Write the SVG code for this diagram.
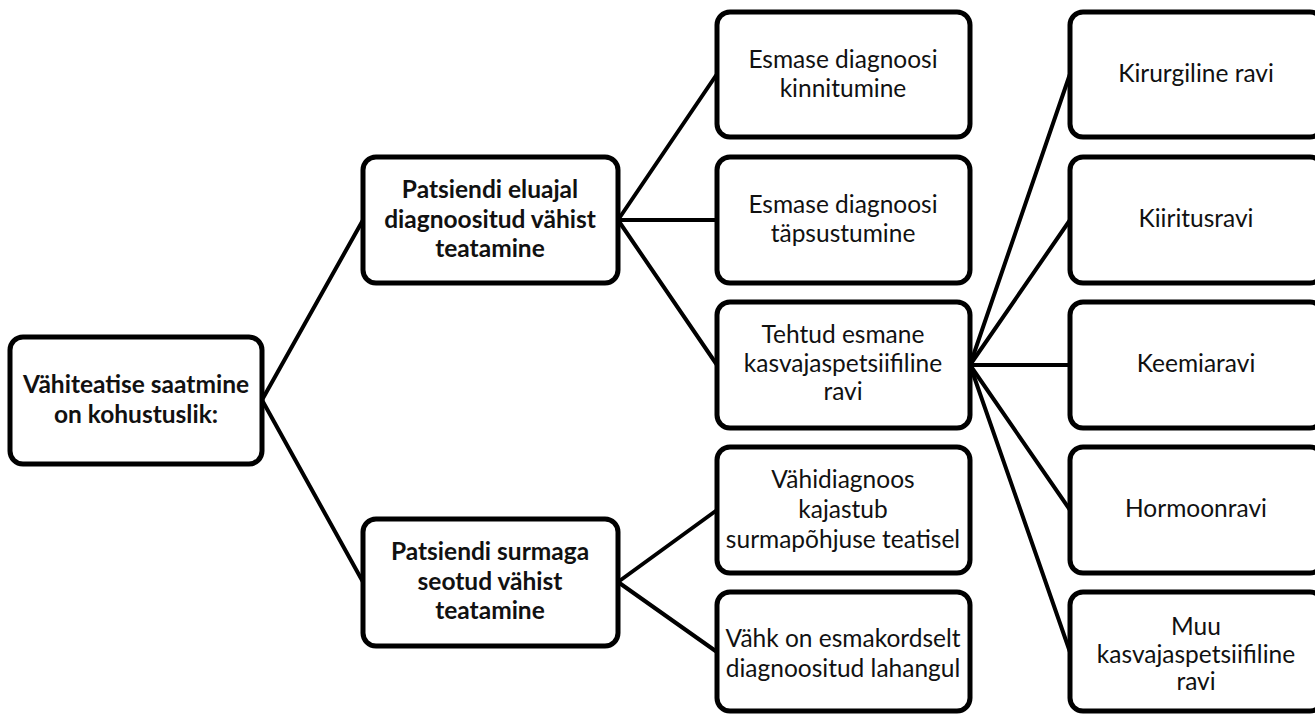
<svg xmlns="http://www.w3.org/2000/svg" width="1315" height="714" viewBox="0 0 1315 714">
<style>
.box{fill:#fff;stroke:#000;stroke-width:5}
.t{font-family:Lato,"Liberation Sans",sans-serif;font-size:24.5px;fill:#111;text-anchor:middle}
.b{font-weight:bold;font-size:24.5px}
.c{stroke:#000;stroke-width:4;fill:none;stroke-linecap:round}
</style>
<rect width="1315" height="714" fill="#fff"/>
<g id="connectors">
<line class="c" x1="262" y1="400" x2="363" y2="220"/>
<line class="c" x1="262" y1="400" x2="363" y2="582"/>
<line class="c" x1="618" y1="220" x2="717" y2="74"/>
<line class="c" x1="618" y1="220" x2="717" y2="220"/>
<line class="c" x1="618" y1="220" x2="717" y2="365"/>
<line class="c" x1="618" y1="582" x2="717" y2="510"/>
<line class="c" x1="618" y1="582" x2="717" y2="652"/>
<line class="c" x1="970" y1="365" x2="1070" y2="74"/>
<line class="c" x1="970" y1="365" x2="1070" y2="220"/>
<line class="c" x1="970" y1="365" x2="1070" y2="365"/>
<line class="c" x1="970" y1="365" x2="1070" y2="510"/>
<line class="c" x1="970" y1="365" x2="1070" y2="652"/>
</g>
<g id="root"><rect class="box" x="10" y="337" width="252" height="127" rx="13"/>
<text class="t b" x="136" y="393">Vähiteatise saatmine</text><text class="t b" x="136" y="423">on kohustuslik:</text></g>
<g id="elu"><rect class="box" x="363" y="157" width="255" height="126" rx="13"/>
<text class="t b" x="490" y="198">Patsiendi eluajal</text><text class="t b" x="490" y="228">diagnoositud vähist</text><text class="t b" x="490" y="257">teatamine</text></g>
<g id="surm"><rect class="box" x="363" y="519" width="255" height="127" rx="13"/>
<text class="t b" x="490" y="560">Patsiendi surmaga</text><text class="t b" x="490" y="590">seotud vähist</text><text class="t b" x="490" y="619">teatamine</text></g>
<g id="kinn"><rect class="box" x="717" y="12" width="253" height="125" rx="13"/>
<text class="t" x="843" y="68">Esmase diagnoosi</text><text class="t" x="843" y="97">kinnitumine</text></g>
<g id="taps"><rect class="box" x="717" y="157" width="253" height="126" rx="13"/>
<text class="t" x="843" y="213">Esmase diagnoosi</text><text class="t" x="843" y="242">täpsustumine</text></g>
<g id="tehtud"><rect class="box" x="717" y="302" width="253" height="126" rx="13"/>
<text class="t" x="843" y="343">Tehtud esmane</text><text class="t" x="843" y="372">kasvajaspetsiifiline</text><text class="t" x="843" y="400">ravi</text></g>
<g id="vahidiag"><rect class="box" x="717" y="447" width="253" height="126" rx="13"/>
<text class="t" x="843" y="488">Vähidiagnoos</text><text class="t" x="843" y="518">kajastub</text><text class="t" x="843" y="548">surmapõhjuse teatisel</text></g>
<g id="vahk"><rect class="box" x="717" y="592" width="253" height="119" rx="13"/>
<text class="t" x="843" y="647">Vähk on esmakordselt</text><text class="t" x="843" y="677">diagnoositud lahangul</text></g>
<g id="kirurg"><rect class="box" x="1070" y="12" width="253" height="125" rx="13"/>
<text class="t" x="1196" y="82">Kirurgiline ravi</text></g>
<g id="kiiritus"><rect class="box" x="1070" y="157" width="253" height="126" rx="13"/>
<text class="t" x="1196" y="227">Kiiritusravi</text></g>
<g id="keemia"><rect class="box" x="1070" y="302" width="253" height="126" rx="13"/>
<text class="t" x="1196" y="372">Keemiaravi</text></g>
<g id="hormoon"><rect class="box" x="1070" y="447" width="253" height="126" rx="13"/>
<text class="t" x="1196" y="517">Hormoonravi</text></g>
<g id="muu"><rect class="box" x="1070" y="592" width="253" height="119" rx="13"/>
<text class="t" x="1196" y="635">Muu</text><text class="t" x="1196" y="663">kasvajaspetsiifiline</text><text class="t" x="1196" y="690">ravi</text></g>
</svg>
